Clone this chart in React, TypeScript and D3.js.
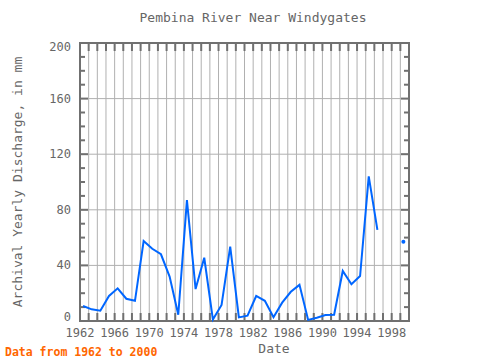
import React, { useEffect, useRef } from 'react'
import * as d3 from 'd3'

// yearly values (null = no data)
const years = [1962, 1963, 1964, 1965, 1966, 1967, 1968, 1969, 1970, 1971, 1972, 1973, 1974, 1975, 1976, 1977, 1978, 1979, 1980, 1981, 1982, 1983, 1984, 1985, 1986, 1987, 1988, 1989, 1990, 1991, 1992, 1993, 1994, 1995, 1996, 1997, 1998, 1999]
const discharge: (number | null)[] = [10.8, 8.4, 7.4, 18, 23.5, 16, 14.5, 57.5, 52, 48, 32, 4.5, 87, 23, 45.5, 1, 11.5, 53.5, 2.6, 3.8, 18, 14.5, 2.7, 13.2, 21, 26, 0.8, 2.4, 4.3, 4.5, 36, 26.4, 32.4, 104, 65.5, null, null, 57]
const yTicks = [0, 40, 80, 120, 160, 200]
const xTickYears = [1962, 1966, 1970, 1974, 1978, 1982, 1986, 1990, 1994, 1998]

const W = 480, H = 360
const left = 80, right = 409, top = 43, bottom = 321
const axisColor = '#707070'
const textColor = '#666666'
const font = '"DejaVu Sans Mono", monospace'

export default function App() {
  const ref = useRef<SVGSVGElement | null>(null)

  useEffect(() => {
    document.body.style.margin = '0'
    const svg = d3.select(ref.current)
    svg.selectAll('*').remove()

    const x = d3.scaleLinear().domain([1962, 2000]).range([left, right])
    const y = d3.scaleLinear().domain([0, 200]).range([bottom, top])
    const off = 0.35 // points sit a bit after the year mark

    svg.append('rect').attr('width', W).attr('height', H).attr('fill', 'white')

    const g = svg.append('g')
    // vertical grid each year
    d3.range(1963, 2000).forEach(yr => {
      g.append('line').attr('x1', x(yr)).attr('x2', x(yr)).attr('y1', top).attr('y2', bottom)
        .attr('stroke', '#b0b0b0').attr('stroke-width', 1)
      g.append('line').attr('x1', x(yr)).attr('x2', x(yr)).attr('y1', top).attr('y2', top + 8)
        .attr('stroke', axisColor).attr('stroke-width', 2)
      g.append('line').attr('x1', x(yr)).attr('x2', x(yr)).attr('y1', bottom).attr('y2', bottom - 8)
        .attr('stroke', axisColor).attr('stroke-width', 2)
    })
    // horizontal grid at major ticks
    yTicks.slice(1, -1).forEach(v => {
      g.append('line').attr('x1', left).attr('x2', right).attr('y1', y(v)).attr('y2', y(v))
        .attr('stroke', '#b0b0b0').attr('stroke-width', 1)
    })
    // minor ticks on left and right
    d3.range(10, 200, 10).forEach(v => {
      const major = v % 40 === 0
      const len = major ? 8 : 5
      g.append('line').attr('x1', left).attr('x2', left + len).attr('y1', y(v)).attr('y2', y(v))
        .attr('stroke', axisColor).attr('stroke-width', 2)
      g.append('line').attr('x1', right).attr('x2', right - len).attr('y1', y(v)).attr('y2', y(v))
        .attr('stroke', axisColor).attr('stroke-width', 2)
    })

    g.append('rect').attr('x', left).attr('y', top).attr('width', right - left).attr('height', bottom - top)
      .attr('fill', 'none').attr('stroke', axisColor).attr('stroke-width', 2)

    // tick labels (end labels nudged inward like the reference)
    yTicks.forEach(v => {
      const base = v === 200 ? y(v) + 8 : v === 0 ? y(v) : y(v) + 4
      svg.append('text').attr('x', 71).attr('y', base).attr('text-anchor', 'end')
        .attr('font-family', font).attr('font-size', 12).attr('fill', textColor).text(v)
    })
    xTickYears.forEach(yr => {
      svg.append('text').attr('x', x(yr)).attr('y', 337).attr('text-anchor', 'middle')
        .attr('font-family', font).attr('font-size', 12).attr('fill', textColor).text(yr)
    })

    const pts = years.map((yr, i) => ({ yr, v: discharge[i] }))
    const line = d3.line<{ yr: number; v: number | null }>()
      .defined(d => d.v !== null)
      .x(d => x(d.yr + off))
      .y(d => y(d.v as number))
    svg.append('path').datum(pts).attr('d', line).attr('fill', 'none')
      .attr('stroke', '#0066ff').attr('stroke-width', 2)

    // isolated points
    pts.forEach((d, i) => {
      if (d.v === null) return
      const prev = i > 0 ? pts[i - 1].v : null
      const next = i < pts.length - 1 ? pts[i + 1].v : null
      if (prev === null && next === null) {
        svg.append('circle').attr('cx', x(d.yr + off)).attr('cy', y(d.v)).attr('r', 2).attr('fill', '#0066ff')
      }
    })

    svg.append('text').attr('x', 253).attr('y', 22).attr('text-anchor', 'middle')
      .attr('font-family', font).attr('font-size', 13).attr('fill', textColor)
      .text('Pembina River Near Windygates')
    svg.append('text').attr('x', 274).attr('y', 353).attr('text-anchor', 'middle')
      .attr('font-family', font).attr('font-size', 13).attr('fill', textColor).text('Date')
    svg.append('text').attr('transform', 'translate(22,182) rotate(-90)').attr('text-anchor', 'middle')
      .attr('font-family', font).attr('font-size', 13).attr('fill', textColor)
      .text('Archival Yearly Discharge, in mm')
    svg.append('text').attr('x', 5).attr('y', 356)
      .attr('font-family', font).attr('font-size', 11.5).attr('font-weight', 'bold').attr('fill', '#ff6600')
      .text('Data from 1962 to 2000')
  }, [])

  return <svg ref={ref} width={W} height={H} style={{ display: 'block' }}></svg>
}
